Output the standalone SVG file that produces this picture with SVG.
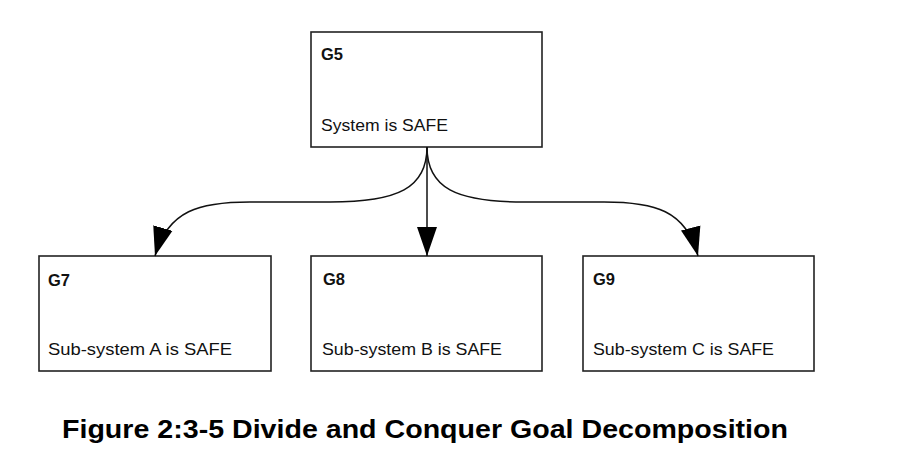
<svg xmlns="http://www.w3.org/2000/svg" width="899" height="467" viewBox="0 0 899 467">
<defs>
<marker id="arr" markerUnits="userSpaceOnUse" markerWidth="30" markerHeight="22" viewBox="0 0 30 22" refX="29" refY="11" orient="auto">
<path d="M0,1 L29,11 L0,21 Z" fill="#000"/>
</marker>
<style>
.box{fill:#fff;stroke:#222;stroke-width:1.6}
.id{font-family:"Liberation Sans",Arial,sans-serif;font-weight:bold;font-size:16px;fill:#111}
.txt{font-family:"Liberation Sans",Arial,sans-serif;font-size:16.5px;fill:#111}
.cap{font-family:"Liberation Sans",Arial,sans-serif;font-weight:bold;font-size:25px;fill:#000}
.edge{fill:none;stroke:#111;stroke-width:1.5}
</style>
</defs>
<rect width="899" height="467" fill="#fff"/>
<g id="G5">
<rect class="box" x="311" y="32" width="231" height="115"/>
<text class="id" x="321" y="60" textLength="22" lengthAdjust="spacingAndGlyphs">G5</text>
<text class="txt" x="321" y="131" textLength="127" lengthAdjust="spacingAndGlyphs">System is SAFE</text>
</g>
<g id="G7">
<rect class="box" x="39" y="256" width="232" height="115"/>
<text class="id" x="48" y="286" textLength="22" lengthAdjust="spacingAndGlyphs">G7</text>
<text class="txt" x="48" y="355" textLength="184" lengthAdjust="spacingAndGlyphs">Sub-system A is SAFE</text>
</g>
<g id="G8">
<rect class="box" x="311" y="256" width="231" height="115"/>
<text class="id" x="323" y="285" textLength="22" lengthAdjust="spacingAndGlyphs">G8</text>
<text class="txt" x="322" y="355" textLength="180" lengthAdjust="spacingAndGlyphs">Sub-system B is SAFE</text>
</g>
<g id="G9">
<rect class="box" x="583" y="256" width="231" height="115"/>
<text class="id" x="593" y="285" textLength="22" lengthAdjust="spacingAndGlyphs">G9</text>
<text class="txt" x="593" y="355" textLength="181" lengthAdjust="spacingAndGlyphs">Sub-system C is SAFE</text>
</g>
<g id="connectors">
<path class="edge" d="M427,147 L427,256" marker-end="url(#arr)"/>
<path class="edge" d="M427,147 C427,188 398,202 330,202 L250,202 C200,202 168,210 155,256" marker-end="url(#arr)"/>
<path class="edge" d="M427,147 C427,188 456,202 524,202 L604,202 C654,202 686,210 698,256" marker-end="url(#arr)"/>
</g>
<text class="cap" x="62" y="438" textLength="726" lengthAdjust="spacingAndGlyphs">Figure 2:3-5 Divide and Conquer Goal Decomposition</text>
</svg>
